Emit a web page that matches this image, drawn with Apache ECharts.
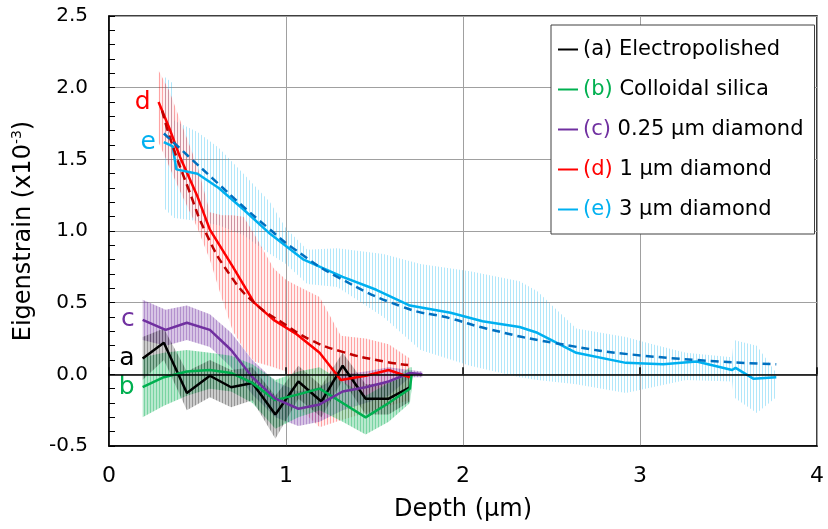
<!DOCTYPE html>
<html>
<head>
<meta charset="utf-8">
<script src="https://cdn.jsdelivr.net/npm/echarts@6/dist/echarts.min.js"></script>
<style>
html,body{margin:0;padding:0;background:#fff}
#main{width:828px;height:529px}
</style>
</head>
<body>
<div id="main"></div>
<script>
// values: depth (µm) and eigenstrain (x10^-3)
// (a) electropolished
var aX  = [0.19, 0.31, 0.44, 0.57, 0.69, 0.81, 0.94, 1.07, 1.20, 1.32, 1.45, 1.58, 1.70];
var aY  = [0.11, 0.22, -0.13, -0.01, -0.09, -0.06, -0.28, -0.05, -0.19, 0.06, -0.17, -0.17, -0.09];
var aUp = [0.26, 0.32, 0.02, 0.10, 0.03, 0.05, -0.15, 0.06, -0.08, 0.15, -0.07, -0.06, 0.00];
var aLo = [-0.04, 0.10, -0.25, -0.16, -0.23, -0.18, -0.45, -0.17, -0.30, -0.04, -0.28, -0.28, -0.19];
// (b) colloidal silica
var bX  = [0.19, 0.31, 0.44, 0.57, 0.69, 0.81, 0.94, 1.07, 1.19, 1.32, 1.45, 1.58, 1.70, 1.71];
var bY  = [-0.09, -0.02, 0.02, 0.03, 0.01, -0.06, -0.18, -0.14, -0.10, -0.20, -0.30, -0.20, -0.10, 0.00];
var bUp = [0.12, 0.15, 0.17, 0.15, 0.13, 0.07, -0.04, 0.02, 0.05, -0.05, -0.15, -0.06, 0.05, 0.05];
var bLo = [-0.30, -0.22, -0.15, -0.10, -0.12, -0.20, -0.38, -0.30, -0.25, -0.33, -0.42, -0.33, -0.20, -0.10];
// (c) 0.25 µm diamond
var cX  = [0.19, 0.32, 0.44, 0.57, 0.69, 0.81, 0.94, 1.07, 1.19, 1.32, 1.45, 1.58, 1.70, 1.77];
var cY  = [0.38, 0.31, 0.36, 0.31, 0.17, -0.02, -0.17, -0.24, -0.21, -0.12, -0.09, -0.05, 0.01, 0.00];
var cUp = [0.52, 0.45, 0.48, 0.42, 0.29, 0.10, -0.05, -0.12, -0.09, 0.00, 0.02, 0.05, 0.03, 0.02];
var cLo = [0.24, 0.20, 0.24, 0.19, 0.05, -0.14, -0.30, -0.36, -0.33, -0.25, -0.20, -0.15, -0.02, -0.02];
// (d) 1 µm diamond
var dX  = [0.28, 0.34, 0.40, 0.50, 0.57, 0.70, 0.82, 0.93, 1.06, 1.19, 1.31, 1.45, 1.58, 1.70];
var dY  = [1.90, 1.72, 1.52, 1.24, 1.01, 0.75, 0.50, 0.38, 0.28, 0.15, -0.04, -0.01, 0.03, -0.02];
var dBandX = [0.28, 0.34, 0.40, 0.50, 0.57, 0.64, 0.70, 0.76, 0.82, 0.93, 1.00, 1.06, 1.19, 1.31, 1.45, 1.58, 1.70];
var dUp = [2.12, 1.98, 1.78, 1.45, 1.13, 1.11, 1.11, 1.10, 0.98, 0.74, 0.66, 0.62, 0.54, 0.27, 0.25, 0.21, 0.11];
var dLo = [1.62, 1.45, 1.28, 1.02, 0.80, 0.52, 0.30, 0.18, 0.09, 0.05, 0.02, -0.22, -0.37, -0.32, -0.27, -0.22, -0.18];
var dFitX = [0.30, 0.35, 0.45, 0.55, 0.68, 0.82, 0.98, 1.14, 1.31, 1.55, 1.69];
var dFitY = [1.84, 1.63, 1.29, 0.98, 0.70, 0.50, 0.36, 0.24, 0.16, 0.09, 0.065];
// (e) 3 µm diamond
var eX  = [0.31, 0.36, 0.38, 0.50, 0.62, 0.76, 0.91, 1.10, 1.32, 1.51, 1.70, 1.93, 2.11, 2.32, 2.42, 2.64, 2.92, 3.13, 3.32, 3.52, 3.54, 3.64, 3.77];
var eY  = [1.62, 1.59, 1.43, 1.40, 1.30, 1.15, 0.98, 0.80, 0.68, 0.59, 0.48, 0.43, 0.37, 0.33, 0.29, 0.15, 0.08, 0.07, 0.09, 0.03, 0.045, -0.03, -0.02];
var eBandX = [0.31, 0.36, 0.37, 0.50, 0.62, 0.76, 0.91, 1.00, 1.12, 1.29, 1.55, 1.76, 2.04, 2.32, 2.42, 2.64, 2.92, 3.07, 3.26, 3.52, 3.53, 3.66, 3.77];
var eUp = [2.08, 2.03, 1.77, 1.69, 1.58, 1.40, 1.20, 1.02, 0.87, 0.88, 0.84, 0.77, 0.72, 0.65, 0.58, 0.32, 0.26, 0.21, 0.15, 0.12, 0.24, 0.20, 0.01];
var eLo = [1.16, 1.10, 1.09, 1.07, 1.04, 0.97, 0.84, 0.77, 0.63, 0.61, 0.40, 0.17, 0.06, -0.02, -0.04, -0.07, -0.13, -0.09, -0.04, -0.05, -0.16, -0.27, -0.16];
var eFitX = [0.31, 0.45, 0.60, 0.75, 0.90, 1.04, 1.29, 1.66, 1.93, 2.13, 2.51, 3.02, 3.77];
var eFitY = [1.68, 1.52, 1.35, 1.18, 1.02, 0.88, 0.68, 0.47, 0.39, 0.32, 0.22, 0.13, 0.07];

var names   = ['Electropolished', 'Colloidal silica', '0.25 µm diamond', '1 µm diamond', '3 µm diamond'];
var letters = ['a', 'b', 'c', 'd', 'e'];
var colors  = ['#000000', '#00b050', '#7030a0', '#ff0000', '#00b0f0'];
var FONT = 'DejaVu Sans, Liberation Sans, sans-serif';

function pairs(xs, ys) {
	return xs.map(function(x, i) { return [x, ys[i]]; });
}

// vertical hatching like the original error bands
function hatch(line, bg) {
	var c = document.createElement('canvas');
	c.width = 3; c.height = 4;
	var g = c.getContext('2d');
	if (bg) { g.fillStyle = bg; g.fillRect(0, 0, 3, 4); }
	g.fillStyle = line;
	g.fillRect(0, 0, 1, 4);
	return { image: c, repeat: 'repeat' };
}

function band(xs, lo, hi, fill) {
	return {
		type: 'custom',
		silent: true,
		clip: true,
		z: 1,
		data: xs.map(function(x, i) { return [x, lo[i], hi[i]]; }),
		encode: { x: 0, y: [1, 2] },
		renderItem: function(params, api) {
			if (params.dataIndex !== 0) return null;
			var top = [], bot = [];
			for (var i = 0; i < xs.length; i++) {
				top.push(api.coord([xs[i], hi[i]]));
				bot.unshift(api.coord([xs[i], lo[i]]));
			}
			return { type: 'polygon', shape: { points: top.concat(bot) }, style: { fill: fill } };
		}
	};
}

function solid(k, xs, ys) {
	return {
		type: 'line',
		name: names[k],
		data: pairs(xs, ys),
		color: colors[k],
		symbol: 'circle',
		symbolSize: 0,
		showAllSymbol: true,
		z: 4,
		lineStyle: { width: 2.5, color: colors[k] },
		label: {
			show: true,
			position: 'left',
			distance: 8,
			fontSize: 25,
			fontFamily: FONT,
			color: colors[k],
			formatter: function(p) { return p.dataIndex === 0 ? letters[k] : ''; }
		}
	};
}

function dashed(name, xs, ys, color) {
	return {
		type: 'line',
		name: name,
		data: pairs(xs, ys),
		smooth: true,
		symbol: 'none',
		z: 5,
		lineStyle: { width: 2.5, color: color, type: [8, 5] }
	};
}

var chart = echarts.init(document.getElementById('main'));
var rich = {};
letters.forEach(function(l, i) {
	rich['k' + l] = { color: colors[i], fontSize: 21, fontFamily: FONT };
});

chart.setOption({
	animation: false,
	textStyle: { fontFamily: FONT },
	grid: { left: 109, right: 11, top: 16, bottom: 83, show: true, borderColor: '#000', borderWidth: 1.5, outerBoundsMode: 'none' },
	legend: {
		orient: 'vertical',
		left: 551, top: 25,
		padding: [14, 11, 14, 7],
		itemGap: 19,
		itemWidth: 20,
		itemHeight: 2,
		icon: 'rect',
		backgroundColor: '#fff',
		borderColor: '#404040',
		borderWidth: 1,
		borderRadius: 0,
		selectedMode: false,
		data: names,
		formatter: function(n) {
			var i = names.indexOf(n);
			return '{k' + letters[i] + '|(' + letters[i] + ')} ' + n;
		},
		textStyle: { fontSize: 21, color: '#000', fontFamily: FONT, rich: rich }
	},
	xAxis: [{
		type: 'value', min: 0, max: 4, interval: 1,
		axisLine: { onZero: false, lineStyle: { color: '#000', width: 1.5 } },
		axisTick: { show: false },
		axisLabel: { fontSize: 22, color: '#000', margin: 19 },
		splitLine: { show: true, lineStyle: { color: '#a0a0a0', width: 1 } },
		name: 'Depth (µm)', nameLocation: 'middle', nameGap: 52,
		nameTextStyle: { fontSize: 24, color: '#000' }
	}, {
		type: 'value', position: 'top', min: 0, max: 4, interval: 1, z: 6,
		axisLine: { onZero: true, lineStyle: { color: '#000', width: 1.5 } },
		axisTick: { show: true, length: 7, lineStyle: { color: '#000', width: 1.5 } },
		axisLabel: { show: false },
		splitLine: { show: false }
	}],
	yAxis: {
		type: 'value', min: -0.5, max: 2.5, interval: 0.5,
		axisLine: { show: true, lineStyle: { color: '#000', width: 1.5 } },
		axisTick: { show: true, inside: true, length: 6, lineStyle: { color: '#000' } },
		minorTick: { show: true, splitNumber: 5, length: 6, lineStyle: { color: '#000' } },
		axisLabel: { fontSize: 20, color: '#000', margin: 21, formatter: function(v) { return v.toFixed(1); } },
		splitLine: { lineStyle: { color: '#a0a0a0', width: 1 } },
		name: 'Eigenstrain (x10{sup|-3})', nameLocation: 'middle', nameGap: 68,
		nameTextStyle: { fontSize: 24, color: '#000', lineHeight: 28,
			rich: { sup: { fontSize: 14, lineHeight: 15, verticalAlign: 'top', color: '#000' } } }
	},
	series: [
		band(eBandX, eLo, eUp, hatch('rgba(0,176,240,0.3)', null)),
		band(dBandX, dLo, dUp, hatch('rgba(255,0,0,0.32)', 'rgba(255,0,0,0.06)')),
		band(cX, cLo, cUp, hatch('rgba(112,48,160,0.35)', 'rgba(112,48,160,0.28)')),
		band(bX, bLo, bUp, hatch('rgba(0,176,80,0.35)', 'rgba(0,176,80,0.28)')),
		band(aX, aLo, aUp, hatch('rgba(0,0,0,0.28)', 'rgba(0,0,0,0.2)')),
		solid(0, aX, aY),
		solid(1, bX, bY),
		solid(2, cX, cY),
		solid(3, dX, dY),
		solid(4, eX, eY),
		dashed('fit d', dFitX, dFitY, '#c00000'),
		dashed('fit e', eFitX, eFitY, '#0070c0')
	]
});
</script>
</body>
</html>
